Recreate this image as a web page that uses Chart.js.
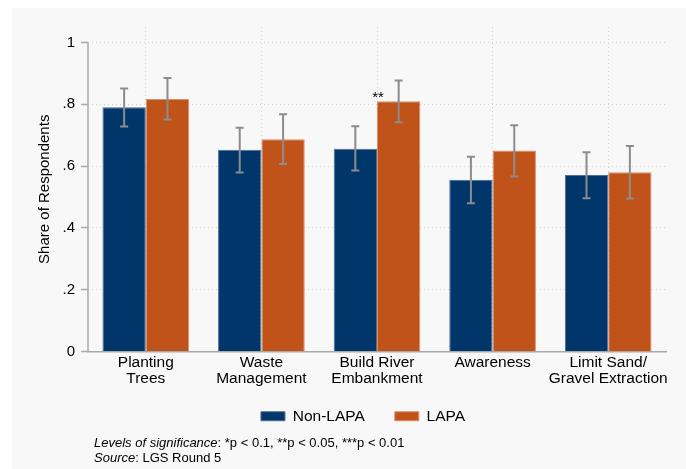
<!DOCTYPE html>
<html>
<head>
<meta charset="utf-8">
<script src="https://cdn.jsdelivr.net/npm/chart.js@4.4.1/dist/chart.umd.min.js"></script>
<style>
  html, body { margin: 0; padding: 0; background: #ffffff; }
  #wrap { position: relative; width: 686px; height: 469px; overflow: hidden; }
  #panel { position: absolute; left: 12px; top: 8px; right: 0; bottom: 0; background: #f8f8f8; }
  #c { position: absolute; left: 0; top: 0; }
  #note {
    position: absolute; left: 94px; top: 435px;
    font: 13px "Liberation Sans", Arial, sans-serif; line-height: 15px; color: #000;
  }
</style>
</head>
<body>
<div id="wrap">
  <div id="panel"></div>
  <canvas id="c" width="686" height="469"></canvas>
  <div id="note"><i>Levels of significance</i>: *p &lt; 0.1, **p &lt; 0.05, ***p &lt; 0.01<br><i>Source</i>: LGS Round 5</div>
</div>
<script>
// Actions respondents support, split by LAPA / non-LAPA areas
const categories = [
  ['Planting', 'Trees'],
  ['Waste', 'Management'],
  ['Build River', 'Embankment'],
  ['Awareness'],
  ['Limit Sand/', 'Gravel Extraction']
];

const nonLapa     = [0.790, 0.653, 0.656, 0.556, 0.571];
const nonLapaLow  = [0.728, 0.579, 0.586, 0.480, 0.496];
const nonLapaHigh = [0.851, 0.724, 0.729, 0.630, 0.645];

const lapa     = [0.817, 0.687, 0.810, 0.650, 0.580];
const lapaLow  = [0.751, 0.607, 0.742, 0.566, 0.495];
const lapaHigh = [0.885, 0.768, 0.877, 0.732, 0.665];

// significance markers for the LAPA vs non-LAPA difference
const lapaSig = ['', '', '**', '', ''];

const yTickValues = [0, 0.2, 0.4, 0.6, 0.8, 1];
const yTickLabels = ['0', '.2', '.4', '.6', '.8', '1'];

const FONT = '"Liberation Sans", Arial, Helvetica, sans-serif';
const AXIS_GREY = '#a8a8a8';
const GRID_GREY = '#d2d2d2';

// Confidence intervals, the y axis line (only over the tick range) and significance stars
const extras = {
  id: 'extras',
  afterLayout(chart) {
    const lg = chart.legend;
    if (lg) {
      lg.left += 24; lg.right += 24;
      lg.top -= 17; lg.bottom -= 17;
    }
  },
  afterDatasetsDraw(chart) {
    const ctx = chart.ctx;
    const ys = chart.scales.y;
    const area = chart.chartArea;
    ctx.save();
    // y axis line from 0 to 1
    ctx.strokeStyle = AXIS_GREY;
    ctx.lineWidth = 1.5;
    ctx.beginPath();
    ctx.moveTo(area.left, ys.getPixelForValue(0));
    ctx.lineTo(area.left, ys.getPixelForValue(1));
    ctx.stroke();

    // error bars
    ctx.strokeStyle = '#8c8c8c';
    ctx.lineWidth = 2;
    [[0, nonLapaLow, nonLapaHigh], [1, lapaLow, lapaHigh]].forEach(([di, lo, hi]) => {
      chart.getDatasetMeta(di).data.forEach((bar, i) => {
        const yl = ys.getPixelForValue(lo[i]);
        const yh = ys.getPixelForValue(hi[i]);
        ctx.beginPath();
        ctx.moveTo(bar.x, yl); ctx.lineTo(bar.x, yh);
        ctx.moveTo(bar.x - 4, yl); ctx.lineTo(bar.x + 4, yl);
        ctx.moveTo(bar.x - 4, yh); ctx.lineTo(bar.x + 4, yh);
        ctx.stroke();
      });
    });

    // significance stars
    ctx.fillStyle = '#000';
    ctx.font = '15px ' + FONT;
    ctx.textAlign = 'center';
    ctx.textBaseline = 'alphabetic';
    chart.getDatasetMeta(1).data.forEach((bar, i) => {
      if (!lapaSig[i]) return;
      ctx.fillText(lapaSig[i], bar.x - bar.width / 2 + 1, bar.y + 1);
    });
    ctx.restore();
  }
};

new Chart(document.getElementById('c'), {
  type: 'bar',
  data: {
    labels: categories,
    datasets: [
      {
        label: 'Non-LAPA', data: nonLapa,
        backgroundColor: '#01366a', borderColor: '#4b6e96', borderWidth: 1
      },
      {
        label: 'LAPA', data: lapa,
        backgroundColor: '#bf531a', borderColor: '#dc8f66', borderWidth: 1
      }
    ]
  },
  options: {
    responsive: false,
    animation: false,
    datasets: { bar: { categoryPercentage: 0.75, barPercentage: 1.0 } },
    layout: { padding: { left: 12, top: 27, right: 20, bottom: 18 } },
    plugins: {
      legend: {
        position: 'bottom',
        labels: {
          boxWidth: 24, boxHeight: 9, padding: 30,
          color: '#000', font: { family: FONT, size: 15.5 }
        }
      },
      tooltip: { enabled: false }
    },
    scales: {
      x: {
        offset: true,
        grid: { offset: false, color: GRID_GREY, lineWidth: 1, drawTicks: false },
        border: { display: true, color: AXIS_GREY, width: 1.5, dash: [1, 3] },
        ticks: {
          color: '#000', padding: 3, maxRotation: 0, autoSkip: false,
          font: { family: FONT, size: 15.5, lineHeight: 1.05 }
        },
        afterFit: s => { s.height = 44; }
      },
      y: {
        min: 0, max: 1.05,
        afterBuildTicks: s => { s.ticks = yTickValues.map(v => ({ value: v })); },
        grid: {
          color: c => (c.tick && c.tick.value === 0) ? 'rgba(0,0,0,0)' : GRID_GREY,
          lineWidth: 1,
          tickColor: AXIS_GREY, tickLength: 7, tickWidth: 1.5, tickBorderDash: []
        },
        border: { display: false, dash: [1, 3] },
        ticks: {
          color: '#000', padding: 6,
          font: { family: FONT, size: 15 },
          callback: (v, i) => yTickLabels[i]
        },
        title: {
          display: true, text: 'Share of Respondents', color: '#000',
          font: { family: FONT, size: 15 }, padding: { top: 24, bottom: 0 }
        },
        afterFit: s => { s.width = 76; }
      }
    }
  },
  plugins: [extras]
});
</script>
</body>
</html>
